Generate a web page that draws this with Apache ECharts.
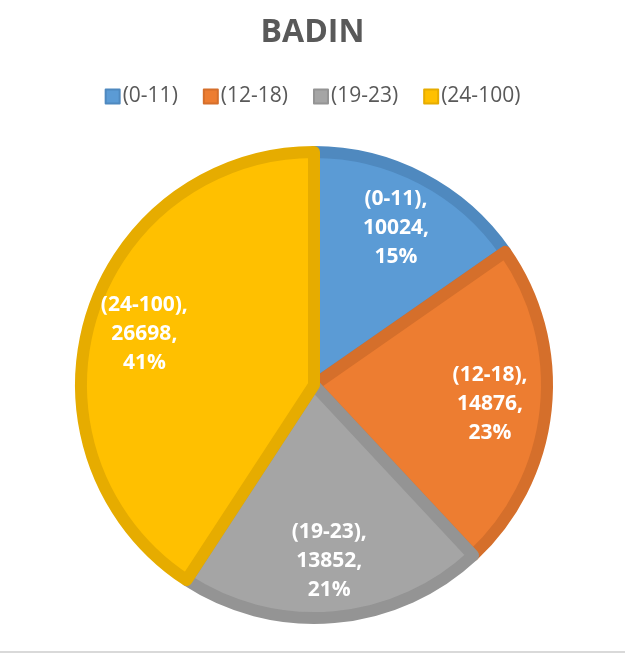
<!DOCTYPE html>
<html>
<head>
<meta charset="utf-8">
<script src="https://cdn.jsdelivr.net/npm/echarts@6/dist/echarts.min.js"></script>
<style>
  html, body { margin: 0; padding: 0; background: #fff; }
  #main { width: 625px; height: 655px; }
</style>
</head>
<body>
<div id="main"></div>
<script>
const categories = ['(0-11)', '(12-18)', '(19-23)', '(24-100)']
const values = [10024, 14876, 13852, 26698]
const fills = ['#5B9BD5', '#ED7D31', '#A5A5A5', '#FFC000']
const borders = ['#4F89BF', '#D56F2B', '#949494', '#E6AC00']

const pieData = categories.map((name, i) => ({
  name: name,
  value: values[i],
  itemStyle: { color: fills[i], borderColor: borders[i] }
}))

const myChart = echarts.init(document.getElementById('main'))

myChart.setOption({
  animation: false,
  title: {
    text: 'BADIN',
    left: 'center',
    top: 12,
    textStyle: { fontFamily: 'Open Sans', fontSize: 32, fontWeight: 'bold', color: '#595959' }
  },
  legend: {
    data: categories,
    top: 81,
    left: 'center',
    itemWidth: 14,
    itemHeight: 14,
    itemGap: 25,
    icon: 'rect',
    textStyle: { fontFamily: 'Open Sans', fontSize: 21, color: '#595959', padding: [0, 0, 0, -2] }
  },
  graphic: [{
    type: 'rect',
    shape: { x: 0, y: 651, width: 625, height: 2 },
    style: { fill: '#D9D9D9' },
    silent: true
  }],
  series: [
    {
      type: 'pie',
      center: [314, 385],
      radius: [0, 233],
      startAngle: 90,
      clockwise: true,
      label: { show: false },
      labelLine: { show: false },
      itemStyle: { borderWidth: 12 },
      emphasis: { disabled: true },
      data: pieData
    },
    {
      // invisible copy used only to place the labels farther out
      type: 'pie',
      center: [314, 385],
      radius: [0, 348],
      startAngle: 90,
      clockwise: true,
      silent: true,
      itemStyle: { color: 'rgba(0,0,0,0)', borderWidth: 0 },
      label: {
        show: true,
        position: 'inside',
        formatter: p => `${p.name},\n${p.value},\n${Math.round(p.percent)}%`,
        fontFamily: 'Open Sans',
        fontWeight: 'bold',
        fontSize: 21,
        lineHeight: 29,
        color: '#fff',
        align: 'center'
      },
      labelLine: { show: false },
      emphasis: { disabled: true },
      data: categories.map((name, i) => ({ name: name, value: values[i] }))
    }
  ]
})
</script>
</body>
</html>
